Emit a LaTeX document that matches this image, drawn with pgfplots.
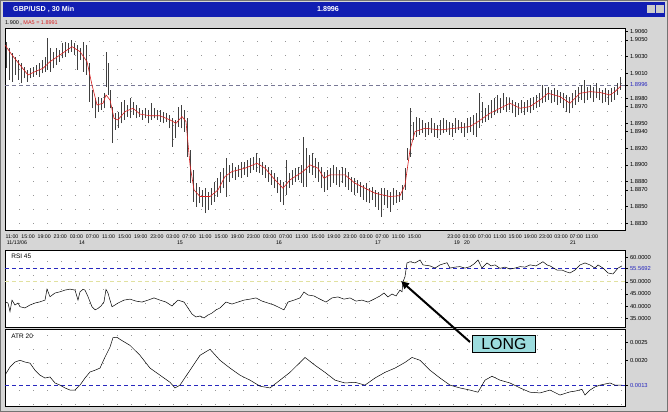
\documentclass[border=0pt]{standalone}
\usepackage{pgfplots}
\usepackage{pgfplotstable}
\pgfplotsset{compat=1.18}
\usepackage{fontspec}
\setmainfont{Liberation Sans}
\usetikzlibrary{arrows.meta}
\definecolor{winbg}{RGB}{214,214,214}
\definecolor{titleblue}{RGB}{18,30,178}
\definecolor{boxcyan}{RGB}{156,220,222}
\definecolor{lvlblue}{RGB}{40,40,190}
\definecolor{pricedash}{RGB}{120,120,150}
\definecolor{gridgray}{RGB}{150,150,150}
\definecolor{marred}{RGB}{215,30,30}
\definecolor{lvlyellow}{RGB}{225,225,160}

\pgfplotstableread{
x lo hi
6 1.9016 1.9048
9 1.9002 1.9040
12 1.9000 1.9034
15 1.9008 1.9030
18 1.9002 1.9026
21 1.8998 1.9022
24 1.9004 1.9018
27 1.9000 1.9014
30 1.9004 1.9016
33 1.9006 1.9018
36 1.9008 1.9020
39 1.9006 1.9022
42 1.9010 1.9026
45 1.9012 1.9030
47 1.9014 1.9052
50 1.9012 1.9040
53 1.9016 1.9036
56 1.9020 1.9040
59 1.9024 1.9038
62 1.9028 1.9046
65 1.9030 1.9048
68 1.9034 1.9046
71 1.9036 1.9050
74 1.9032 1.9046
77 1.9014 1.9044
80 1.9026 1.9040
83 1.9012 1.9048
86 1.9008 1.9044
89 1.8976 1.9022
92 1.8968 1.8990
95 1.8956 1.8980
98 1.8964 1.8982
101 1.8966 1.8980
104 1.8968 1.8986
106 1.8994 1.9036
108 1.8984 1.9022
110 1.8968 1.8990
112 1.8926 1.8970
115 1.8942 1.8962
118 1.8944 1.8964
121 1.8950 1.8976
124 1.8954 1.8978
127 1.8958 1.8972
130 1.8956 1.8980
133 1.8960 1.8976
136 1.8956 1.8972
139 1.8958 1.8968
142 1.8954 1.8966
145 1.8956 1.8968
148 1.8950 1.8966
151 1.8954 1.8974
154 1.8956 1.8968
157 1.8954 1.8966
160 1.8952 1.8966
163 1.8950 1.8964
166 1.8952 1.8962
169 1.8944 1.8960
172 1.8922 1.8956
175 1.8932 1.8954
178 1.8946 1.8970
181 1.8944 1.8972
184 1.8940 1.8966
187 1.8910 1.8956
190 1.8878 1.8918
193 1.8856 1.8894
196 1.8850 1.8878
199 1.8854 1.8874
202 1.8850 1.8870
205 1.8842 1.8872
208 1.8846 1.8868
211 1.8852 1.8872
214 1.8856 1.8880
217 1.8862 1.8884
220 1.8866 1.8892
223 1.8872 1.8896
226 1.8862 1.8908
229 1.8880 1.8900
232 1.8884 1.8902
235 1.8882 1.8898
238 1.8886 1.8900
241 1.8884 1.8904
244 1.8888 1.8904
247 1.8886 1.8906
250 1.8890 1.8908
253 1.8894 1.8910
256 1.8892 1.8914
259 1.8890 1.8908
262 1.8888 1.8904
265 1.8884 1.8900
268 1.8880 1.8898
271 1.8876 1.8894
274 1.8872 1.8890
277 1.8866 1.8886
280 1.8856 1.8882
283 1.8852 1.8880
286 1.8864 1.8906
289 1.8872 1.8890
292 1.8876 1.8894
295 1.8880 1.8896
298 1.8882 1.8898
301 1.8878 1.8900
303 1.8874 1.8934
306 1.8874 1.8920
309 1.8890 1.8912
312 1.8888 1.8914
315 1.8884 1.8908
318 1.8880 1.8904
321 1.8872 1.8898
324 1.8868 1.8892
327 1.8870 1.8894
330 1.8874 1.8896
333 1.8878 1.8900
336 1.8876 1.8898
339 1.8874 1.8894
342 1.8878 1.8898
345 1.8874 1.8896
348 1.8870 1.8892
351 1.8868 1.8886
354 1.8864 1.8884
357 1.8866 1.8882
360 1.8862 1.8880
363 1.8858 1.8876
366 1.8856 1.8878
369 1.8854 1.8872
372 1.8858 1.8874
375 1.8850 1.8870
378 1.8846 1.8868
381 1.8838 1.8872
384 1.8852 1.8872
387 1.8848 1.8870
390 1.8844 1.8868
393 1.8852 1.8872
396 1.8854 1.8870
399 1.8856 1.8868
402 1.8858 1.8876
405 1.8870 1.8896
407 1.8906 1.8920
410 1.8910 1.8968
413 1.8930 1.8952
416 1.8934 1.8958
419 1.8936 1.8956
422 1.8938 1.8954
425 1.8934 1.8950
428 1.8936 1.8952
431 1.8938 1.8956
434 1.8934 1.8950
437 1.8932 1.8948
440 1.8936 1.8954
443 1.8938 1.8956
446 1.8940 1.8954
449 1.8936 1.8952
452 1.8934 1.8950
455 1.8938 1.8956
458 1.8942 1.8954
461 1.8938 1.8952
464 1.8934 1.8950
467 1.8938 1.8956
470 1.8940 1.8958
473 1.8936 1.8960
476 1.8934 1.8962
479 1.8944 1.8986
482 1.8950 1.8976
485 1.8952 1.8968
488 1.8954 1.8972
491 1.8956 1.8978
494 1.8960 1.8980
497 1.8962 1.8984
500 1.8962 1.8980
503 1.8966 1.8986
506 1.8964 1.8982
509 1.8966 1.8980
512 1.8962 1.8978
515 1.8958 1.8976
518 1.8960 1.8974
521 1.8962 1.8978
524 1.8960 1.8976
527 1.8964 1.8978
530 1.8962 1.8980
533 1.8966 1.8982
536 1.8968 1.8984
539 1.8970 1.8986
542 1.8974 1.8996
545 1.8976 1.8992
548 1.8978 1.8994
551 1.8974 1.8990
554 1.8976 1.8992
557 1.8972 1.8990
560 1.8974 1.8988
563 1.8968 1.8986
566 1.8964 1.8984
569 1.8962 1.8982
572 1.8968 1.8986
575 1.8972 1.8990
578 1.8976 1.8994
581 1.8978 1.8996
584 1.8974 1.9002
587 1.8978 1.8994
590 1.8980 1.8996
593 1.8976 1.8994
596 1.8980 1.8998
599 1.8978 1.8992
602 1.8974 1.8990
605 1.8976 1.8992
608 1.8972 1.8990
611 1.8976 1.8992
614 1.8978 1.8994
617 1.8984 1.8998
620 1.8990 1.9006
}\bars

\pgfplotstableread{
x ma
5 1.9044
12 1.9032
20 1.9020
28 1.9008
35 1.9012
43 1.9016
50 1.9024
60 1.9032
72 1.9042
80 1.9036
87 1.9024
92 1.8996
97 1.8972
103 1.8974
106 1.8984
110 1.8978
114 1.8956
118 1.8954
125 1.8964
133 1.8968
140 1.8961
150 1.8959
160 1.8959
170 1.8954
176 1.8950
182 1.8958
186 1.8952
190 1.8900
194 1.8870
200 1.8862
210 1.8862
218 1.8870
225 1.8886
232 1.8892
245 1.8896
257 1.8902
265 1.8896
275 1.8882
283 1.8872
290 1.8882
303 1.8892
310 1.8900
318 1.8896
324 1.8884
330 1.8888
345 1.8888
355 1.8878
365 1.8872
375 1.8866
390 1.8862
400 1.8863
405 1.8876
410 1.8918
415 1.8940
425 1.8944
440 1.8942
455 1.8944
470 1.8946
478 1.8952
490 1.8962
500 1.8968
510 1.8974
520 1.8968
530 1.8970
540 1.8978
548 1.8986
560 1.8982
570 1.8974
580 1.8986
590 1.8988
600 1.8987
610 1.8984
615 1.8988
621 1.8995
}\mafive

\pgfplotstableread{
x rsi
5 41.8
8 41.3
10 37.8
12 42.5
15 40.5
18 41.3
20 39.8
25 39.3
30 40.5
35 41.3
40 41.8
45 42.5
47 47.0
50 43.9
55 45.4
60 45.9
65 46.6
70 47.0
75 46.6
78 42.5
80 45.9
83 46.9
85 46.6
88 43.9
92 39.8
95 38.5
98 39.1
101 40.1
104 41.8
106 46.9
108 45.4
110 42.5
112 39.8
115 40.5
118 41.3
124 42.5
130 42.9
136 42.1
142 41.7
148 42.5
154 43.4
160 42.5
166 41.7
172 40.1
178 42.5
184 41.7
188 39.3
192 36.8
196 35.6
200 36.0
204 35.2
208 36.4
212 37.2
216 38.5
220 39.3
226 41.7
232 40.9
238 41.7
244 42.5
250 42.9
256 43.4
262 42.1
268 41.3
274 40.5
280 39.3
284 38.5
288 41.7
294 42.5
300 43.4
304 45.8
308 44.6
314 44.2
320 42.9
326 41.7
332 43.4
338 43.8
344 42.9
350 43.4
356 42.1
362 42.5
368 41.7
374 42.9
380 44.2
384 45.4
388 43.8
392 45.0
396 44.2
400 46.6
402 45.9
403 50.0
405 52.1
407 57.7
410 58.2
415 57.7
420 58.9
423 56.9
430 56.5
435 55.6
440 56.9
447 57.8
450 55.6
455 56.0
460 56.2
465 55.6
470 56.2
474 57.3
478 58.9
482 55.6
487 57.7
491 56.5
495 56.9
500 55.5
505 56.0
510 55.2
515 55.6
520 56.2
525 56.0
530 56.9
536 56.5
543 58.2
547 56.9
550 56.5
557 54.8
562 54.8
566 54.1
570 53.6
575 54.8
580 56.9
585 57.7
590 56.9
595 55.6
598 56.9
603 55.6
608 53.6
613 53.2
618 55.6
622 56.5
}\rsi

\pgfplotstableread{
x atr
5 0.00158
10 0.00181
15 0.00195
20 0.00200
25 0.00195
30 0.00192
35 0.00172
40 0.00158
45 0.00150
50 0.00153
55 0.00136
60 0.00130
65 0.00122
70 0.00116
75 0.00116
80 0.00130
85 0.00150
90 0.00167
95 0.00172
100 0.00178
105 0.00209
110 0.00237
113 0.00264
117 0.00265
120 0.00259
130 0.00242
140 0.00214
150 0.00178
160 0.00158
170 0.00138
175 0.00122
180 0.00130
190 0.00172
200 0.00214
210 0.00231
220 0.00200
230 0.00178
240 0.00158
250 0.00144
260 0.00127
270 0.00122
280 0.00144
290 0.00166
300 0.00194
305 0.00208
315 0.00186
325 0.00166
335 0.00144
345 0.00136
355 0.00138
365 0.00130
375 0.00150
385 0.00166
395 0.00178
405 0.00194
412 0.00208
420 0.00200
430 0.00172
440 0.00150
450 0.00130
460 0.00122
470 0.00116
478 0.00110
485 0.00144
492 0.00155
500 0.00144
510 0.00136
520 0.00122
530 0.00110
540 0.00108
550 0.00116
560 0.00102
570 0.00111
575 0.00113
582 0.00118
585 0.00102
590 0.00116
595 0.00125
600 0.00130
610 0.00136
615 0.00130
622 0.00130
}\atr

\begin{document}
\begin{tikzpicture}
\fill[winbg] (0bp,0bp) rectangle (668bp,-412bp);
\draw[black!55, line width=1bp] (0.5bp,-0.5bp) rectangle (667.5bp,-411.5bp);
\fill[titleblue] (3bp,-2bp) rectangle (665bp,-17bp);
\node[anchor=west, text=white, font=\fontsize{7.2}{8}\selectfont\bfseries, inner sep=0pt] at (13bp,-9.5bp) {GBP/USD , 30 Min};
\node[text=white, font=\fontsize{7.2}{8}\selectfont\bfseries, inner sep=0pt] at (328bp,-9.5bp) {1.8996};
\fill[white!80!black] (647bp,-5bp) rectangle (655bp,-13bp);
\fill[white!80!black] (656bp,-5bp) rectangle (664bp,-13bp);
\node[anchor=west, font=\fontsize{5.5}{6}\selectfont, inner sep=0pt] at (5bp,-22.5bp) {1.900 , \textcolor{marred}{MA5 = 1.8991}};

\pgfplotsset{panel/.style={
  scale only axis, width=620bp, xmin=5, xmax=625,
  axis background/.style={fill=white},
  axis line style={black, line width=0.6bp},
  ytick pos=right, yticklabel pos=right,
  tick align=outside, major tick length=2.5bp, minor tick length=0pt,
  tick style={black, line width=0.5bp},
  scaled y ticks=false, scaled x ticks=false,
  tick label style={font=\fontsize{5.8}{6.5}\selectfont},
  yticklabel style={xshift=-1bp},
  yminorgrids=true,
  minor grid style={gridgray, line width=0.8bp, dash pattern=on 0.8bp off 13.2bp},
  extra y tick style={grid=none, yticklabel style={text=lvlblue}},
}}

% ---- main price panel ----
\begin{axis}[panel, at={(5bp,-28bp)}, anchor=north west, height=202bp,
  ymin=1.88218, ymax=1.90644,
  ytick={1.883,1.885,1.887,1.888,1.890,1.892,1.894,1.895,1.897,1.898,1.901,1.903,1.905,1.906},
  yticklabels={1.8830,1.8850,1.8870,1.8880,1.8900,1.8920,1.8940,1.8950,1.8970,1.8980,1.9010,1.9030,1.9050,1.9060},
  minor ytick={1.88300,1.88468,1.88636,1.88804,1.88972,1.89140,1.89308,1.89476,1.89644,1.89812,1.89980,1.90148,1.90316,1.90484},
  extra y ticks={1.8996}, extra y tick labels={1.8996},
  xtick pos=bottom, xtick style={draw=none},
  xtick={12,28.1,44.2,60.3,76.4,92.5,108.6,124.7,140.8,156.9,173,189.1,205.2,221.3,237.4,253.5,269.6,285.7,301.8,317.9,334,350.1,366.2,382.3,398.4,414.5,454,469.3,484.6,499.9,515.2,530.5,545.8,561.1,576.4,591.7},
  xticklabels={11:00,15:00,19:00,23:00,03:00,07:00,11:00,15:00,19:00,23:00,03:00,07:00,11:00,15:00,19:00,23:00,03:00,07:00,11:00,15:00,19:00,23:00,03:00,07:00,11:00,15:00,23:00,03:00,07:00,11:00,15:00,19:00,23:00,03:00,07:00,11:00},
  xticklabel style={font=\fontsize{5.3}{6}\selectfont, yshift=1bp},
  extra x ticks={17,82,180,279,378,457,467,573},
  extra x tick labels={11/13/06,14,15,16,17,19,20,21},
  extra x tick style={xtick style={draw=none}, grid=none, xticklabel style={yshift=-6bp}},
]
\addplot[pricedash, line width=0.6bp, dash pattern=on 4bp off 3bp, forget plot] coordinates {(5,1.8996) (625,1.8996)};
\addplot[draw=none, mark=none, forget plot,
  error bars/.cd, y dir=plus, y explicit, error mark=none,
  error bar style={draw=black!75, line width=1bp}]
  table[x=x, y=lo, y error expr=\thisrow{hi}-\thisrow{lo}] {\bars};
\addplot[marred, line width=0.6bp, mark=none] table[x=x, y=ma] {\mafive};
\end{axis}

% ---- RSI panel ----
\begin{axis}[panel, at={(5bp,-250bp)}, anchor=north west, height=77bp,
  ymin=31.5, ymax=63,
  ytick={35,40,45,50,60},
  yticklabels={35.0000,40.0000,45.0000,50.0000,60.0000},
  minor ytick={35.5,41.23,46.96,52.69,58.42},
  extra y ticks={55.5692}, extra y tick labels={55.5692},
  xtick=\empty,
]
\addplot[lvlyellow, line width=0.7bp, dash pattern=on 4bp off 3bp, forget plot] coordinates {(5,50) (625,50)};
\addplot[lvlblue, line width=0.8bp, dash pattern=on 4bp off 3bp, forget plot] coordinates {(5,55.5692) (625,55.5692)};
\addplot[black, line width=0.5bp, mark=none] table[x=x, y=rsi] {\rsi};
\node[anchor=north west, font=\fontsize{6.5}{7}\selectfont, inner sep=0pt] at (rel axis cs:0.01,0.95) {RSI 45};
\end{axis}

% ---- ATR panel ----
\begin{axis}[panel, at={(5bp,-329.5bp)}, anchor=north west, height=76.5bp,
  ymin=0.000711, ymax=0.002868,
  ytick={0.0020,0.0025},
  yticklabels={0.0020,0.0025},
  minor ytick={0.00075,0.00114,0.00153,0.00192,0.00231,0.00270},
  extra y ticks={0.0013}, extra y tick labels={0.0013},
  xtick=\empty,
]
\addplot[lvlblue, line width=0.8bp, dash pattern=on 4bp off 3bp, forget plot] coordinates {(5,0.0013) (625,0.0013)};
\addplot[black, line width=0.5bp, mark=none] table[x=x, y=atr] {\atr};
\node[anchor=north west, font=\fontsize{6.5}{7}\selectfont, inner sep=0pt] at (rel axis cs:0.01,0.95) {ATR 20};
\end{axis}

% ---- annotation ----
\draw[line width=2bp, -{Triangle[length=8bp,width=7bp]}] (470bp,-342bp) -- (401bp,-281bp);
\node[draw=black, fill=boxcyan, line width=0.8bp, inner sep=0pt, minimum width=63bp, minimum height=17bp, anchor=north west, font=\fontsize{16}{16}\selectfont] at (472bp,-335bp) {LONG};
\end{tikzpicture}
\end{document}
